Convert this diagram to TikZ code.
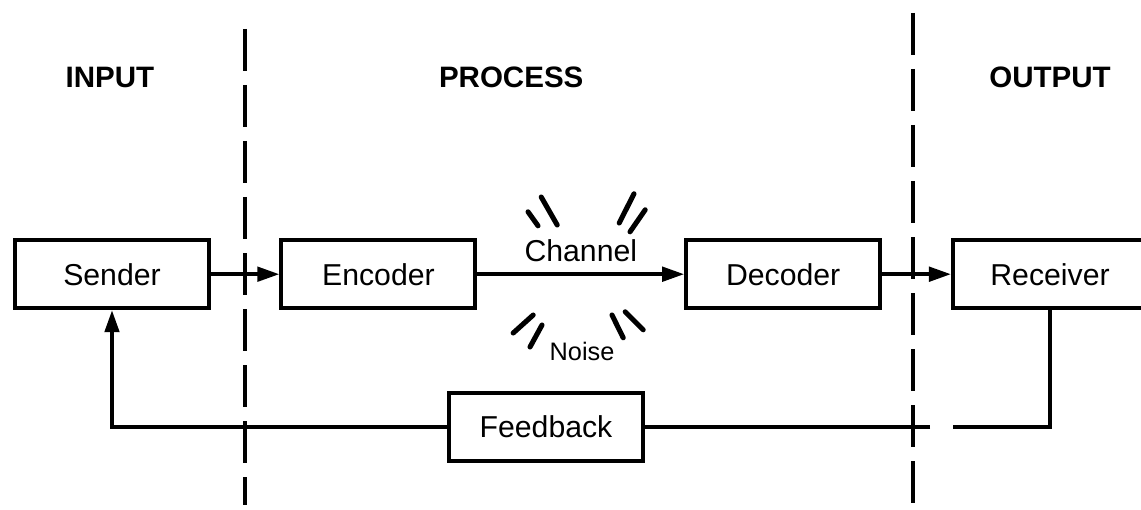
\documentclass[tikz,border=0pt]{standalone}
\usepackage{fontspec}
\setmainfont{Liberation Sans}
\usetikzlibrary{arrows.meta}

\begin{document}
\begin{tikzpicture}[box/.style={rectangle, draw, line width=2.9pt, minimum width=4.85cm, minimum height=1.7cm, font=\fontsize{21.5}{24}\selectfont},
  head/.style={font=\fontsize{21}{24}\selectfont\bfseries},
  link/.style={line width=2.6pt},
  flow/.style={link, -{Triangle[length=0.55cm, width=0.36cm]}},
  border/.style={line width=3pt, dash pattern=on 1.05cm off 0.35cm},
  noise/.style={line width=3.6pt, line cap=round}]
  \useasboundingbox (0, 0) rectangle (28.525, 12.725);
  \node[head] (input) at (2.75, 10.80) {INPUT};
  \node[head] (process) at (12.78, 10.80) {PROCESS};
  \node[head] (output) at (26.25, 10.80) {OUTPUT};
  \node[box] (sender) at (2.80, 5.87) {Sender};
  \node[box] (encoder) at (9.46, 5.87) {Encoder};
  \node[box] (decoder) at (19.58, 5.87) {Decoder};
  \node[box] (receiver) at (26.25, 5.87) {Receiver};
  \node[box] (feedback) at (13.65, 2.05) {Feedback};
  \node[font=\fontsize{18}{20}\selectfont] (noise) at (14.55, 3.93) {Noise};
  \coordinate (ltop) at (6.13, 12.00);
  \coordinate (lbot) at (6.13, 0.10);
  \coordinate (rtop) at (22.83, 12.40);
  \coordinate (rbot) at (22.83, 0.10);
  \coordinate (gapL) at (23.25, 2.05);
  \coordinate (gapR) at (23.83, 2.05);
  \draw[border] (ltop) -- (lbot);
  \draw[border] (rtop) -- (rbot);
  \draw[flow] (sender) -- (encoder);
  \draw[flow] (encoder) -- node[above=4pt, font=\fontsize{21.5}{24}\selectfont] (channel) {Channel} (decoder);
  \draw[flow] (decoder) -- (receiver);
  \draw[flow] (feedback.west) -| (sender.south);
  \draw[link] (receiver.south) |- (gapR);
  \draw[link] (gapL) -- (feedback.east);
  \draw[noise] (13.20, 7.43) -- (13.45, 7.08);
  \draw[noise] (13.53, 7.80) -- (13.93, 7.10);
  \draw[noise] (15.85, 7.88) -- (15.48, 7.15);
  \draw[noise] (16.13, 7.48) -- (15.75, 6.93);
  \draw[noise] (13.33, 4.85) -- (12.83, 4.40);
  \draw[noise] (13.55, 4.60) -- (13.25, 4.05);
  \draw[noise] (15.30, 4.85) -- (15.58, 4.28);
  \draw[noise] (15.63, 4.93) -- (16.08, 4.48);
\end{tikzpicture}
\end{document}
